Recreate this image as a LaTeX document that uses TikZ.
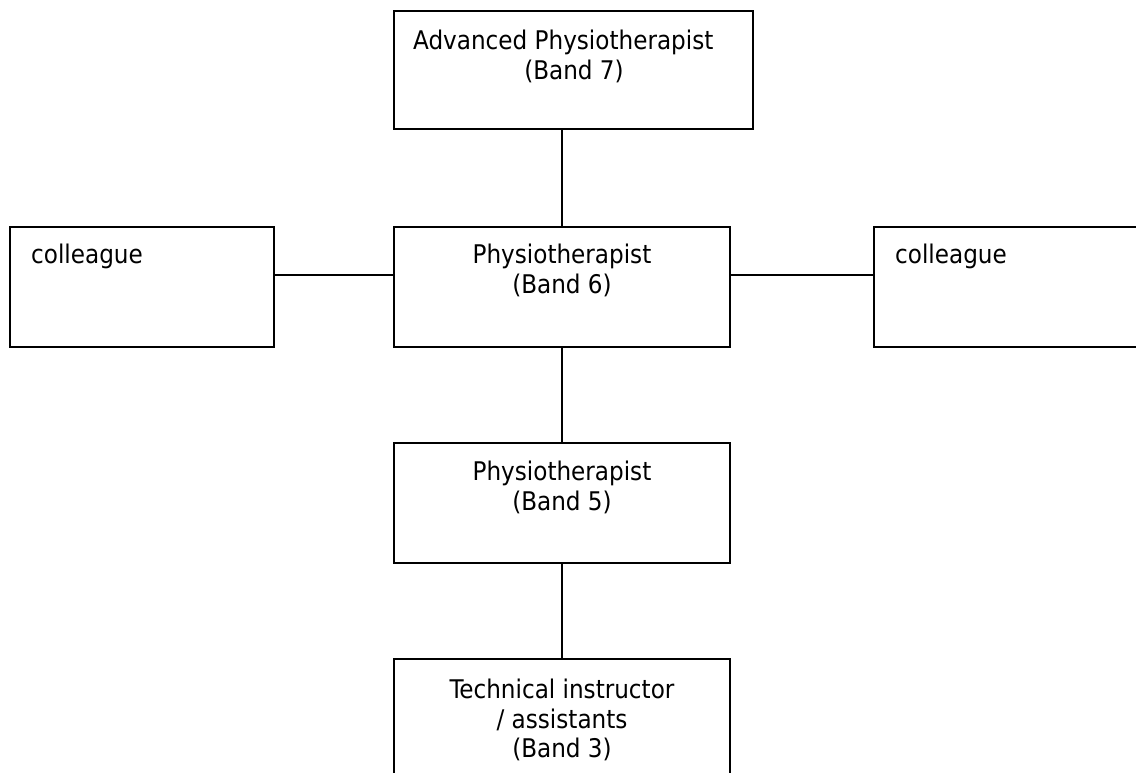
\documentclass[tikz,border=0pt]{standalone}
\usepackage{fontspec}
\setmainfont{DejaVu Sans Condensed}
\begin{document}
\begin{tikzpicture}[x=1pt,y=-1pt,
  box/.style={draw=black,line width=1.9pt,rectangle},
  lbl/.style={anchor=base,inner sep=0pt,font=\fontsize{25.7}{30}\selectfont},
  conn/.style={draw=black,line width=1.9pt}]
\useasboundingbox (0,0) rectangle (1136,773);
\clip (0,0) rectangle (1136,773);
\fill[white] (0,0) rectangle (1136,773);
% boxes
\draw[box] (394,11) rectangle (753,129);
\coordinate (b7s) at (562,129);
\draw[box] (10,227) rectangle (274,347);
\coordinate (lce) at (274,275);
\draw[box] (394,227) rectangle (730,347);
\coordinate (b6n) at (562,227);
\coordinate (b6s) at (562,347);
\coordinate (b6w) at (394,275);
\coordinate (b6e) at (730,275);
\draw[box] (874,227) rectangle (1150,347);
\coordinate (rcw) at (874,275);
\draw[box] (394,443) rectangle (730,563);
\coordinate (b5n) at (562,443);
\coordinate (b5s) at (562,563);
\draw[box] (394,659) rectangle (730,800);
\coordinate (b3n) at (562,659);
% connectors
\draw[conn] (b7s) -- (b6n);
\draw[conn] (lce) -- (b6w);
\draw[conn] (b6e) -- (rcw);
\draw[conn] (b6s) -- (b5n);
\draw[conn] (b5s) -- (b3n);
% labels
\node[lbl,anchor=base west] (t7a) at (413,50) {Advanced Physiotherapist};
\node[lbl] (t7b) at (574,80) {(Band 7)};
\node[lbl,anchor=base west] (tlc) at (31,263) {colleague};
\node[lbl,anchor=base west] (trc) at (895,263) {colleague};
\node[lbl] (t6a) at (562,263) {Physiotherapist};
\node[lbl] (t6b) at (562,293) {(Band 6)};
\node[lbl] (t5a) at (562,480) {Physiotherapist};
\node[lbl] (t5b) at (562,510) {(Band 5)};
\node[lbl] (t3a) at (562,698) {Technical instructor};
\node[lbl] (t3b) at (562,728) {/ assistants};
\node[lbl] (t3c) at (562,757) {(Band 3)};
\end{tikzpicture}
\end{document}
